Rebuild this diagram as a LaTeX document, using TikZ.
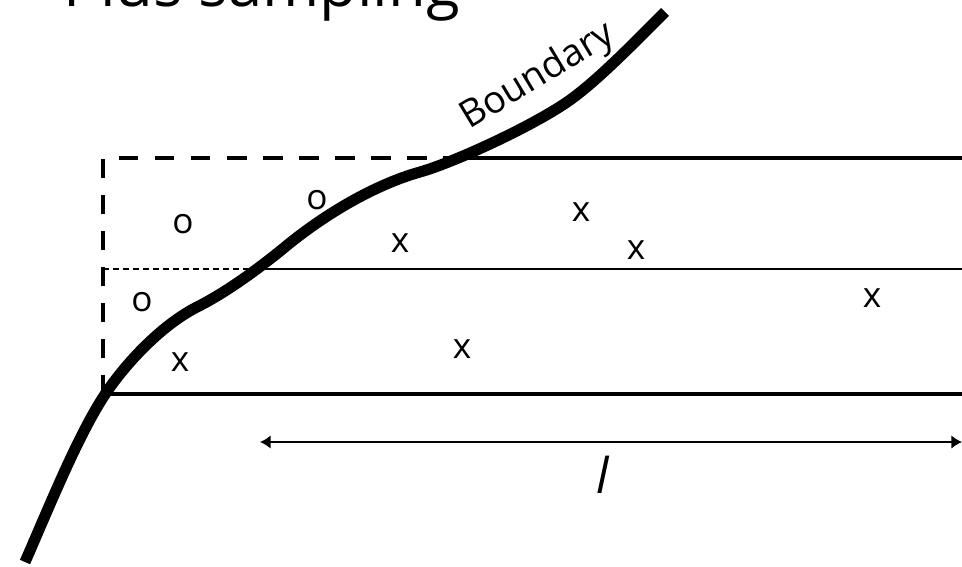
\documentclass[tikz,border=0pt]{standalone}
\usepackage{fontspec}
\setmainfont{Open Sans}
\usetikzlibrary{arrows.meta}

\begin{document}
\begin{tikzpicture}[
    x=0.02cm, y=-0.02cm,
    sample/.style={font=\fontsize{20}{24}\selectfont, inner sep=0pt},
    boundary/.style={line width=6.3pt, line join=round},
    edgeline/.style={line width=2.2pt},
    boxdashed/.style={line width=2.6pt, dash pattern=on 11pt off 9.5pt},
    thindashed/.style={line width=0.8pt, dash pattern=on 3.4pt off 2.3pt}
  ]
  \useasboundingbox (0,0) rectangle (962,566);

  % Title (cut at the top)
  \node[anchor=base west, inner sep=0pt, font=\fontsize{35}{40}\selectfont]
    (title) at (63,6) {Plus sampling};

  % Strips
  \draw[boxdashed] (103,394) -- (103,158) -- (452,158);
  \draw[edgeline] (452,158) -- (962,158);
  \draw[thindashed] (103,269) -- (250,269);
  \draw[line width=0.8pt] (250,269) -- (962,269);
  \draw[edgeline] (105,394) -- (962,394);

  % Samples
  \node[sample] (o1) at (183,224) {o};
  \node[sample] (o2) at (317,200) {o};
  \node[sample] (o3) at (142,302) {o};
  \node[sample] (x1) at (180,362) {x};
  \node[sample] (x2) at (400,243) {x};
  \node[sample] (x3) at (581,212) {x};
  \node[sample] (x4) at (636,250) {x};
  \node[sample] (x5) at (872,298) {x};
  \node[sample] (x6) at (462,349) {x};

  % Boundary
  \draw[boundary] (25,562) .. controls (50,505) and (80,430) .. (108,390)
    .. controls (126,364) and (160,326) .. (197,307)
    .. controls (227,292) and (260,267.5) .. (285,247)
    .. controls (325,214) and (375,184.6) .. (420,172)
    .. controls (455,162) and (535,125) .. (570,100)
    .. controls (598,80) and (635,42) .. (665,12);
  \node[font=\fontsize{21.5}{26}\selectfont, rotate=31, inner sep=0pt]
    (blabel) at (538,77) {Boundary};

  % Length
  \coordinate (lleft) at (260,442);
  \coordinate (lright) at (962,442);
  \draw[line width=0.85pt, {Latex[length=6pt, width=7.5pt]}-{Latex[length=6pt, width=7.5pt]}]
    (lleft) -- (lright);
  \node[font=\fontsize{28}{32}\selectfont\itshape, inner sep=0pt] (len) at (603,475) {l};
\end{tikzpicture}
\end{document}
